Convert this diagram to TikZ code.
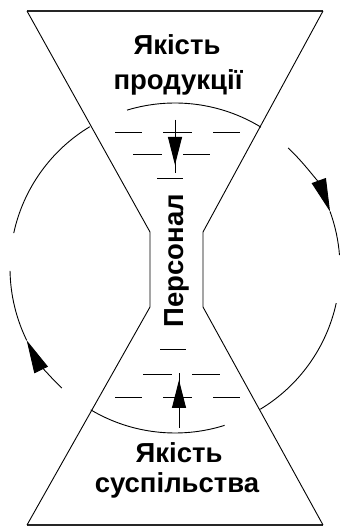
\documentclass[tikz,border=0pt]{standalone}
\usepackage{fontspec}
\setmainfont{Liberation Sans}
\usetikzlibrary{arrows.meta}

\tikzset{
  qtext/.style={font=\fontsize{27.5}{32}\selectfont\bfseries, inner sep=0pt, anchor=base},
  ring/.style={line width=0.9pt},
  tick/.style={line width=1pt},
  edgeline/.style={line width=1.6pt, black!85},
  flowtip/.style={-{Triangle[length=33pt,width=15pt]}},
  pushtip/.style={-{Triangle[length=28pt,width=14pt]}},
}

\begin{document}
\begin{tikzpicture}[x=1pt, y=1pt]
    \useasboundingbox (0,0) rectangle (341,528);
    % hourglass
    \draw[edgeline] (27,517) -- (323,517);
    \draw[edgeline] (27,3) -- (323,3);
    \draw[line width=0.9pt] (27,517) -- (150,296) -- (150,221) -- (27,3);
    \draw[line width=0.9pt] (323,517) -- (203,296) -- (203,221) -- (323,3);
    % circle pieces
    \coordinate (c) at (175,260);
    \draw[ring] (c) ++(121.1:165) arc[start angle=121.1, end angle=167.8, radius=165];
    \draw[ring] (c) ++(106.9:165) arc[start angle=106.9, end angle=58.6, radius=165];
    \draw[ring, flowtip] (c) ++(46.7:165) arc[start angle=46.7, end angle=20, radius=165];
    \draw[ring] (c) ++(20:165) arc[start angle=20, end angle=4.5, radius=165];
    \draw[ring] (c) ++(-58.9:165) arc[start angle=-58.9, end angle=-12.3, radius=165];
    \draw[ring] (c) ++(287.5:165) arc[start angle=287.5, end angle=239.3, radius=165];
    \draw[ring, flowtip] (c) ++(226.7:165) arc[start angle=226.7, end angle=206, radius=165];
    \draw[ring] (c) ++(206:165) arc[start angle=206, end angle=181, radius=165];
    % dashes
    \foreach \yv/\xa/\xb in {395/115/142, 395/163/192, 395/213/240,
                             373/133/162, 373/183/210, 349/157/183,
                             178/160/186, 153/143/172, 153/192/220,
                             130/115/142, 130/163/192, 130/213/240}{
        \draw[tick] (\xa,\yv) -- (\xb,\yv);
    }
    % inner arrows
    \draw[tick] (175,408) -- (175,355);
    \draw[tick, pushtip] (175,408) -- (175,363);
    \draw[tick] (179,100) -- (179,155);
    \draw[tick, pushtip] (179,100) -- (179,148);
    % labels
    \node[qtext] (prodA) at (177,473) {Якість};
    \node[qtext] (prodB) at (178,438) {продукції};
    \node[qtext, rotate=90] (staff) at (183,267.5) {Персонал};
    \node[qtext] (socA) at (179,65) {Якість};
    \node[qtext] (socB) at (177,35) {суспільства};
\end{tikzpicture}
\end{document}
